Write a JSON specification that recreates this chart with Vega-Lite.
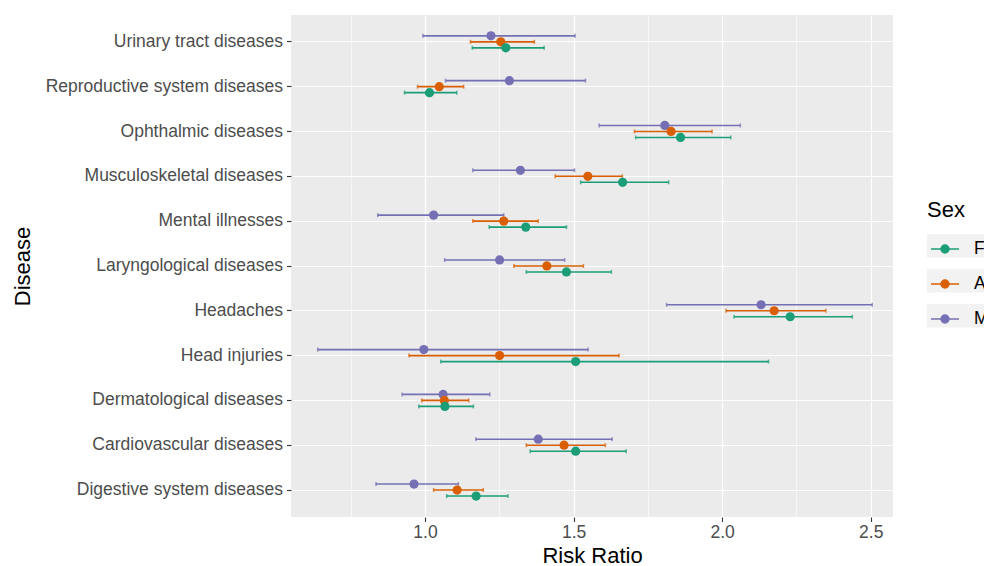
{
  "$schema": "https://vega.github.io/schema/vega-lite/v6.json",
  "width": 602,
  "height": 502,
  "autosize": {"type": "none"},
  "padding": {"left": 291, "top": 15, "right": 91, "bottom": 49},
  "background": "white",
  "config": {
    "font": "Liberation Sans",
    "view": {"fill": "#EBEBEB", "stroke": null}
  },
  "data": {
    "values": [
      {"Disease": "Urinary tract diseases", "Sex": "M", "RR": 1.222, "lo": 0.993, "hi": 1.505},
      {"Disease": "Urinary tract diseases", "Sex": "A", "RR": 1.255, "lo": 1.153, "hi": 1.368},
      {"Disease": "Urinary tract diseases", "Sex": "F", "RR": 1.272, "lo": 1.159, "hi": 1.401},
      {"Disease": "Reproductive system diseases", "Sex": "M", "RR": 1.284, "lo": 1.069, "hi": 1.540},
      {"Disease": "Reproductive system diseases", "Sex": "A", "RR": 1.048, "lo": 0.975, "hi": 1.130},
      {"Disease": "Reproductive system diseases", "Sex": "F", "RR": 1.015, "lo": 0.931, "hi": 1.107},
      {"Disease": "Ophthalmic diseases", "Sex": "M", "RR": 1.807, "lo": 1.586, "hi": 2.061},
      {"Disease": "Ophthalmic diseases", "Sex": "A", "RR": 1.828, "lo": 1.705, "hi": 1.966},
      {"Disease": "Ophthalmic diseases", "Sex": "F", "RR": 1.860, "lo": 1.709, "hi": 2.029},
      {"Disease": "Musculoskeletal diseases", "Sex": "M", "RR": 1.321, "lo": 1.161, "hi": 1.503},
      {"Disease": "Musculoskeletal diseases", "Sex": "A", "RR": 1.548, "lo": 1.438, "hi": 1.664},
      {"Disease": "Musculoskeletal diseases", "Sex": "F", "RR": 1.665, "lo": 1.524, "hi": 1.820},
      {"Disease": "Mental illnesses", "Sex": "M", "RR": 1.029, "lo": 0.841, "hi": 1.265},
      {"Disease": "Mental illnesses", "Sex": "A", "RR": 1.265, "lo": 1.161, "hi": 1.381},
      {"Disease": "Mental illnesses", "Sex": "F", "RR": 1.339, "lo": 1.216, "hi": 1.476},
      {"Disease": "Laryngological diseases", "Sex": "M", "RR": 1.251, "lo": 1.066, "hi": 1.470},
      {"Disease": "Laryngological diseases", "Sex": "A", "RR": 1.410, "lo": 1.299, "hi": 1.533},
      {"Disease": "Laryngological diseases", "Sex": "F", "RR": 1.476, "lo": 1.341, "hi": 1.627},
      {"Disease": "Headaches", "Sex": "M", "RR": 2.131, "lo": 1.813, "hi": 2.505},
      {"Disease": "Headaches", "Sex": "A", "RR": 2.175, "lo": 2.013, "hi": 2.349},
      {"Disease": "Headaches", "Sex": "F", "RR": 2.229, "lo": 2.040, "hi": 2.438},
      {"Disease": "Head injuries", "Sex": "M", "RR": 0.996, "lo": 0.639, "hi": 1.549},
      {"Disease": "Head injuries", "Sex": "A", "RR": 1.251, "lo": 0.946, "hi": 1.653},
      {"Disease": "Head injuries", "Sex": "F", "RR": 1.507, "lo": 1.053, "hi": 2.156},
      {"Disease": "Dermatological diseases", "Sex": "M", "RR": 1.061, "lo": 0.923, "hi": 1.218},
      {"Disease": "Dermatological diseases", "Sex": "A", "RR": 1.065, "lo": 0.989, "hi": 1.147},
      {"Disease": "Dermatological diseases", "Sex": "F", "RR": 1.067, "lo": 0.979, "hi": 1.163},
      {"Disease": "Cardiovascular diseases", "Sex": "M", "RR": 1.381, "lo": 1.171, "hi": 1.630},
      {"Disease": "Cardiovascular diseases", "Sex": "A", "RR": 1.468, "lo": 1.341, "hi": 1.607},
      {"Disease": "Cardiovascular diseases", "Sex": "F", "RR": 1.507, "lo": 1.354, "hi": 1.677},
      {"Disease": "Digestive system diseases", "Sex": "M", "RR": 0.963, "lo": 0.835, "hi": 1.112},
      {"Disease": "Digestive system diseases", "Sex": "A", "RR": 1.108, "lo": 1.029, "hi": 1.196},
      {"Disease": "Digestive system diseases", "Sex": "F", "RR": 1.172, "lo": 1.073, "hi": 1.279}
    ]
  },
  "encoding": {
    "y": {
      "field": "Disease",
      "type": "nominal",
      "sort": ["Urinary tract diseases", "Reproductive system diseases", "Ophthalmic diseases", "Musculoskeletal diseases", "Mental illnesses", "Laryngological diseases", "Headaches", "Head injuries", "Dermatological diseases", "Cardiovascular diseases", "Digestive system diseases"],
      "scale": {"paddingInner": 0, "paddingOuter": 0.1},
      "axis": {
        "title": "Disease",
        "bandPosition": 0.5,
        "grid": true,
        "gridColor": "white",
        "gridWidth": 1.2,
        "domain": false,
        "tickColor": "#333333",
        "tickSize": 4.5,
        "tickWidth": 1.1,
        "labelColor": "#4D4D4D",
        "labelFontSize": 17.5,
        "labelLimit": 0,
        "labelPadding": 4,
        "titleFontSize": 22,
        "titleFontWeight": "normal",
        "titleColor": "black",
        "titleX": -269,
        "titleY": 251,
        "titleAngle": -90,
        "titleAlign": "center",
        "titleBaseline": "middle"
      }
    },
    "yOffset": {
      "field": "Sex",
      "type": "nominal",
      "scale": {"domain": ["M", "A", "F"], "paddingInner": 0, "paddingOuter": 0, "range": [13.35, 31.35]}
    },
    "color": {
      "field": "Sex",
      "type": "nominal",
      "scale": {"domain": ["F", "A", "M"], "range": ["#1B9E77", "#D95F02", "#7570B3"]},
      "legend": {
        "orient": "none",
        "legendX": 636,
        "legendY": 185,
        "padding": 0,
        "title": "Sex",
        "titleFontSize": 22,
        "titleFontWeight": "normal",
        "titleColor": "black",
        "titlePadding": 12,
        "labelFontSize": 17.5,
        "labelColor": "black",
        "labelOffset": 14,
        "symbolOffset": 3,
        "symbolType": "M-1,0H1M0.28,0A0.28,0.28,0,1,1,-0.28,0A0.28,0.28,0,1,1,0.28,0Z",
        "symbolSize": 784,
        "symbolStrokeWidth": 1.5,
        "rowPadding": 11,
        "encode": {
          "symbols": {
            "update": {
              "stroke": {"scale": "color", "field": "value"},
              "fill": {"scale": "color", "field": "value"},
              "strokeWidth": {"value": 1.5},
              "opacity": {"value": 1}
            }
          },
          "entries": {
            "update": {
              "fill": {"value": "#F2F2F2"},
              "width": {"value": 35},
              "height": {"value": 105}
            }
          }
        }
      }
    }
  },
  "layer": [
    {
      "mark": {"type": "rule", "strokeWidth": 1.6},
      "encoding": {
        "x": {
          "field": "lo",
          "type": "quantitative",
          "title": "Risk Ratio",
          "scale": {"domain": [0.549, 2.575], "nice": false, "zero": false},
          "axis": {
            "values": [0.75, 1.0, 1.25, 1.5, 1.75, 2.0, 2.25, 2.5],
            "labelExpr": "indexof([1,1.5,2,2.5], datum.value) >= 0 ? format(datum.value, '.1f') : ''",
            "grid": true,
            "gridColor": "white",
            "gridWidth": {"condition": {"test": "indexof([1,1.5,2,2.5], datum.value) < 0", "value": 0.6}, "value": 1.2},
            "tickOpacity": {"condition": {"test": "indexof([1,1.5,2,2.5], datum.value) < 0", "value": 0}, "value": 1},
            "domain": false,
            "tickColor": "#333333",
            "tickSize": 4.5,
            "tickWidth": 1.1,
            "labelColor": "#4D4D4D",
            "labelFontSize": 17.5,
            "labelPadding": 2,
            "labelFlush": false,
            "titleFontSize": 22,
            "titleFontWeight": "normal",
            "titleColor": "black",
            "titlePadding": 4
          }
        },
        "x2": {"field": "hi"}
      }
    },
    {
      "mark": {"type": "tick", "orient": "vertical", "size": 4, "thickness": 1.6},
      "encoding": {"x": {"field": "lo", "type": "quantitative", "title": "Risk Ratio"}}
    },
    {
      "mark": {"type": "tick", "orient": "vertical", "size": 4, "thickness": 1.6},
      "encoding": {"x": {"field": "hi", "type": "quantitative", "title": "Risk Ratio"}}
    },
    {
      "mark": {"type": "point", "filled": true, "size": 85, "opacity": 1},
      "encoding": {"x": {"field": "RR", "type": "quantitative", "title": "Risk Ratio"}}
    }
  ]
}
